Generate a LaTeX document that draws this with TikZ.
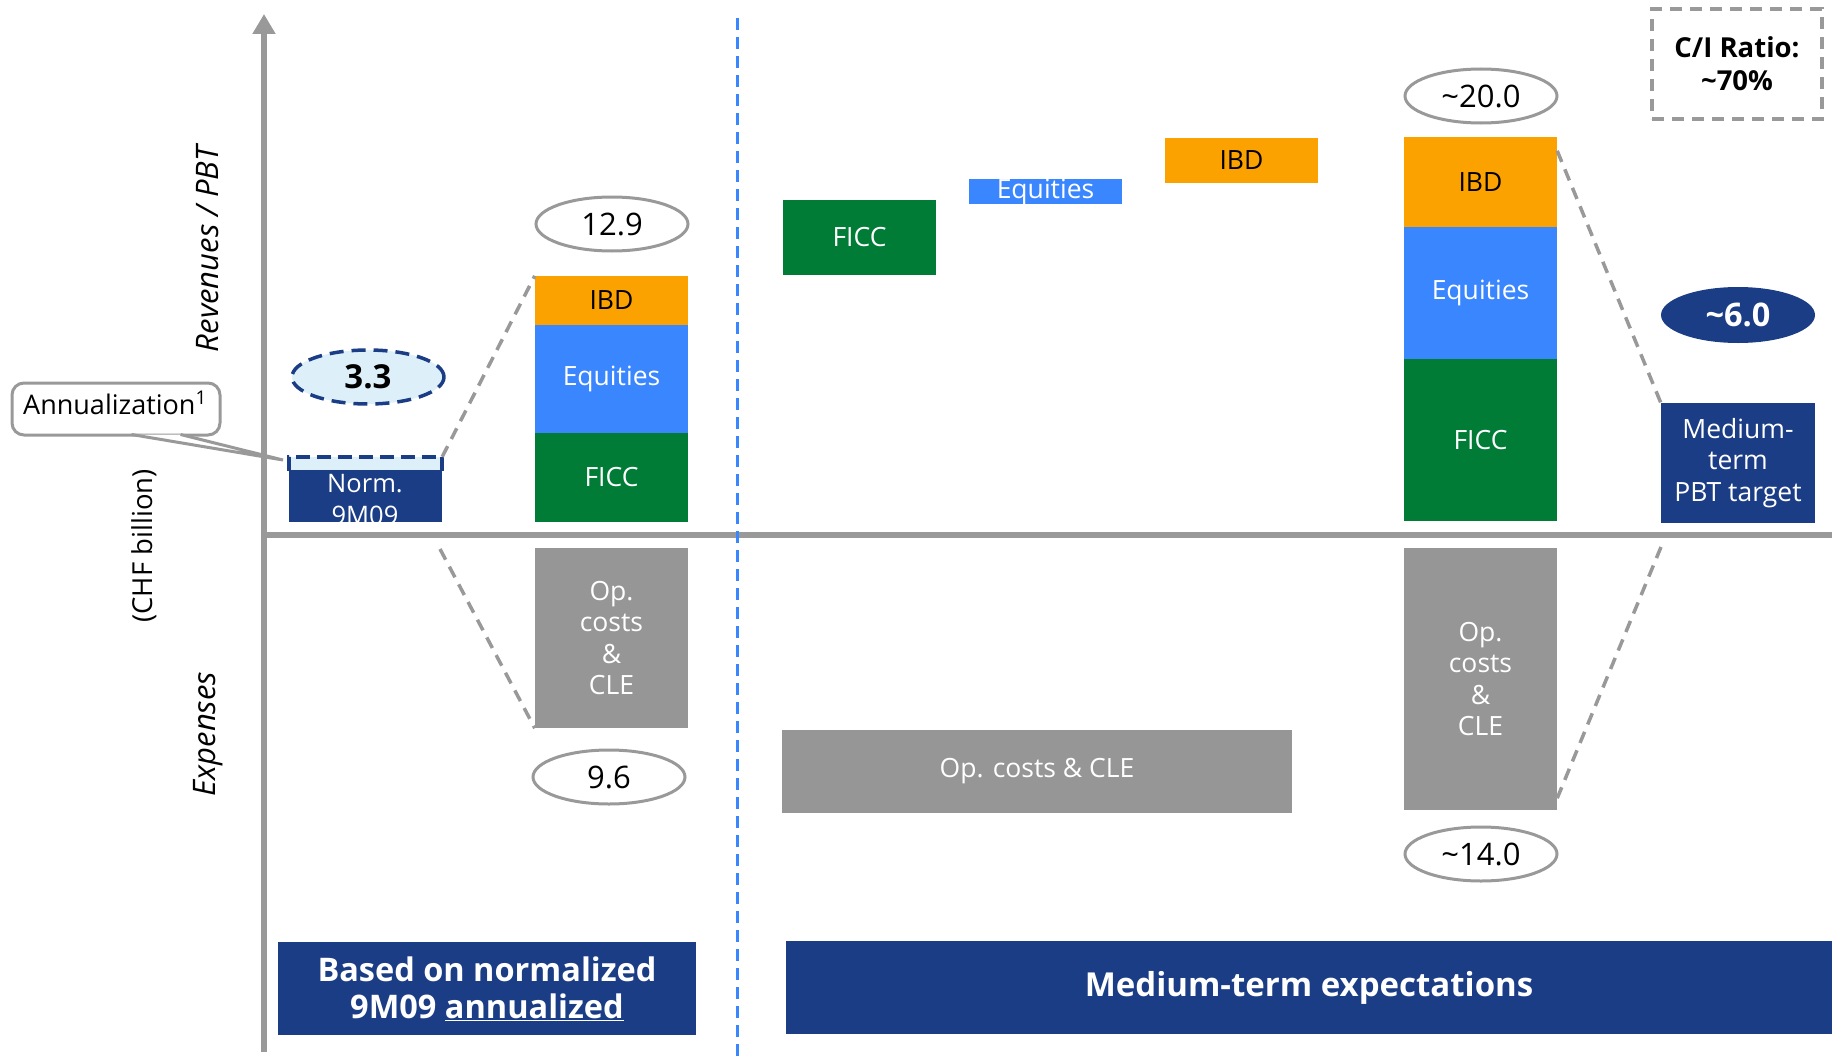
\documentclass[tikz,border=0pt]{standalone}
\usepackage{fontspec}
\setmainfont{Open Sans}
\usetikzlibrary{arrows.meta,shapes.geometric}

\definecolor{navy}{RGB}{27,61,133}
\definecolor{ficcgreen}{RGB}{0,124,54}
\definecolor{eqblue}{RGB}{58,134,255}
\definecolor{ibdorange}{RGB}{251,161,0}
\definecolor{costgray}{RGB}{150,150,150}
\definecolor{axisgray}{RGB}{153,153,153}
\definecolor{paleblue}{RGB}{221,240,250}

\tikzset{
  bar/.style={inner sep=0pt, minimum width=153pt, align=center,
    font=\fontsize{26.5}{31.5}\selectfont},
  ficcbar/.style={bar, fill=ficcgreen, text=white},
  eqbar/.style={bar, fill=eqblue, text=white},
  ibdbar/.style={bar, fill=ibdorange, text=black},
  costbar/.style={bar, fill=costgray, text=white},
  valoval/.style={ellipse, draw=axisgray, line width=3pt, fill=white,
    minimum width=152pt, minimum height=54pt, inner sep=0pt,
    font=\fontsize{31}{36}\selectfont},
  link/.style={draw=axisgray, line width=3.5pt, dash pattern=on 12pt off 8pt},
  axislabel/.style={rotate=90, inner sep=0pt, font=\fontsize{27.5}{32}\selectfont},
  italiclabel/.style={axislabel, font=\itshape\fontsize{31}{36}\selectfont},
  banner/.style={fill=navy, text=white, inner sep=0pt, minimum height=93pt,
    align=center, font=\bfseries\fontsize{32.5}{37}\selectfont},
}

\begin{document}
\begin{tikzpicture}[x=1pt, y=-1pt]
  \useasboundingbox (0,0) rectangle (1832,1057);

  % axes
  \coordinate (axbot) at (264,1052);
  \coordinate (axtop) at (264,14);
  \coordinate (hxl) at (264,535);
  \coordinate (hxr) at (1832,535);
  \draw[axisgray, line width=6.5pt, -{Triangle[width=22pt,length=20pt]}] (axbot) -- (axtop);
  \draw[axisgray, line width=6pt] (hxl) -- (hxr);

  % separator between the two halves
  \coordinate (sept) at (737,18);
  \coordinate (sepb) at (737,1057);
  \draw[eqblue, line width=3pt, dash pattern=on 12pt off 7pt] (sept) -- (sepb);

  % axis captions
  \node[italiclabel] (rev) at (208,249) {Revenues / PBT};
  \node[axislabel] (chf) at (144,546) {(CHF billion)};
  \node[italiclabel] (exp) at (208,734) {Expenses};

  % normalized 9M09 block
  \node[fill=paleblue, inner sep=0pt, minimum width=153pt, minimum height=65pt] (norm) at (365.5,489.5) {};
  \fill[navy] ([yshift=-13pt]norm.north west) rectangle (norm.south east);
  \draw[navy, line width=3.5pt, dash pattern=on 14pt off 7pt]
    ([yshift=-14pt]norm.north west) -- (norm.north west) -- (norm.north east) -- ([yshift=-14pt]norm.north east);
  \begin{scope}
    \clip (norm.south west) rectangle (norm.north east);
    \node[anchor=base, text=white, inner sep=0pt, font=\fontsize{25.5}{31}\selectfont] (normA) at (365,492) {Norm.};
    \node[anchor=base, text=white, inner sep=0pt, font=\fontsize{25.5}{31}\selectfont] (normB) at (365,524) {9M09};
  \end{scope}

  \node[ellipse, fill=paleblue, draw=navy, line width=3.5pt, dash pattern=on 14pt off 8pt,
    minimum width=152pt, minimum height=54pt, inner sep=0pt,
    font=\bfseries\fontsize{33}{38}\selectfont] (v33) at (368,377) {3.3};

  % annualization callout
  \node[draw=axisgray, line width=3pt, rounded corners=12pt, fill=white,
    minimum width=208pt, minimum height=52pt, inner sep=0pt] (annu) at (116,409) {};
  \node[inner sep=0pt, anchor=base, font=\fontsize{27}{32}\selectfont] (annutext) at (115,414) {Annualization\textsuperscript{1}};
  \coordinate (tip) at (283,460);
  \coordinate (pL) at ([xshift=121pt,yshift=2pt]annu.south west);
  \coordinate (pR) at ([xshift=170pt,yshift=2pt]annu.south west);
  \fill[white] (pL) -- (tip) -- (pR) -- cycle;
  \draw[axisgray, line width=3pt, line join=miter] (pL) -- (tip) -- (pR);

  % 9M09 annualized column
  \node[ibdbar, minimum height=49pt] (ibd1) at (611.5,300.5) {IBD};
  \node[eqbar, minimum height=108pt] (eq1) at (611.5,379) {Equities};
  \node[ficcbar, minimum height=89pt] (ficc1) at (611.5,477.5) {FICC};
  \node[costbar, minimum height=180pt] (op1) at (611.5,638) {Op.\\costs\\\&\\CLE};
  \node[valoval] (v129) at (612,224) {12.9};
  \node[valoval] (v96) at (609,777) {9.6};

  \draw[link] (norm.north east) -- (ibd1.north west);
  \coordinate (lowL) at (440,549);
  \draw[link] (lowL) -- (op1.south west);

  % medium-term steps
  \node[ficcbar, minimum height=75pt] (ficcM) at (859.5,237.5) {FICC};
  \node[eqbar, minimum height=25pt] (eqM) at (1045.5,191.5) {Equities};
  \node[ibdbar, minimum height=45pt] (ibdM) at (1241.5,160.5) {IBD};
  \node[costbar, minimum width=510pt, minimum height=83pt] (opM) at (1037,771.5) {Op. costs \& CLE};

  % medium-term column
  \node[ibdbar, minimum height=90pt] (ibd2) at (1480.5,182) {IBD};
  \node[eqbar, minimum height=132pt] (eq2) at (1480.5,293) {Equities};
  \node[ficcbar, minimum height=162pt] (ficc2) at (1480.5,440) {FICC};
  \node[costbar, minimum height=262pt] (op2) at (1480.5,679) {Op.\\costs\\\&\\CLE};
  \node[valoval] (v200) at (1481,96) {\textasciitilde20.0};
  \node[valoval] (v140) at (1481,854) {\textasciitilde14.0};

  % PBT target
  \node[bar, fill=navy, text=white, minimum width=154pt, minimum height=120pt] (pbt) at (1738,463) {Medium-\\term\\PBT target};
  \node[ellipse, fill=navy, inner sep=0pt, minimum width=154pt, minimum height=56pt,
    text=white, font=\bfseries\fontsize{32.5}{38}\selectfont] (v60) at (1738,315) {\textasciitilde6.0};

  \draw[link] ([yshift=-14pt]ibd2.north east) -- (pbt.north west);
  \coordinate (lowR) at (1661,547);
  \draw[link] (lowR) -- ([yshift=12pt]op2.south east);

  % cost/income ratio
  \node[draw=axisgray, line width=3.5pt, dash pattern=on 12pt off 8pt,
    minimum width=170pt, minimum height=110pt, inner sep=0pt, align=center,
    font=\bfseries\fontsize{27.5}{33}\selectfont] (ci) at (1737,64) {C/I Ratio:\\\textasciitilde70\%};

  % section banners
  \node[banner, minimum width=418pt] (basedon) at (487,988.5) {Based on normalized\\9M09 \underline{annualized}};
  \node[banner, minimum width=1046pt, font=\bfseries\fontsize{33}{37}\selectfont] (mtexp) at (1309,987.5) {Medium-term expectations};
\end{tikzpicture}
\end{document}
